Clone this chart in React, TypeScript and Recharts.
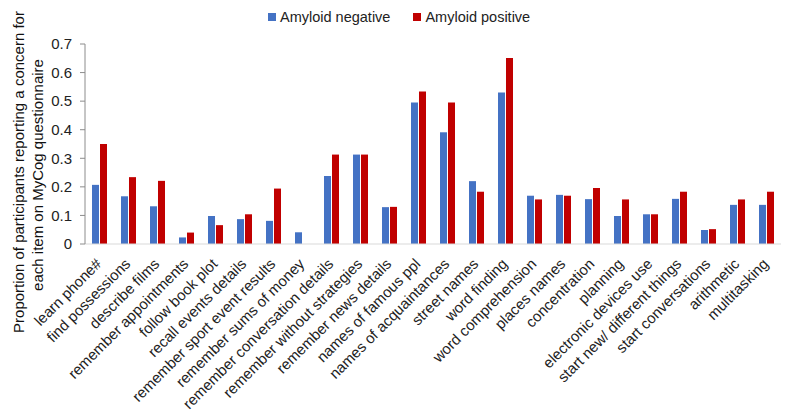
import React from 'react';
import { BarChart, Bar, XAxis, YAxis, Legend, Label } from 'recharts';

const items = [
  'learn phone#',
  'find possessions',
  'describe films',
  'remember appointments',
  'follow book plot',
  'recall events details',
  'remember sport event results',
  'remember sums of money',
  'remember conversation details',
  'remember without strategies',
  'remember news details',
  'names of famous ppl',
  'names of acquaintances',
  'street names',
  'word finding',
  'word comprehension',
  'places names',
  'concentration',
  'planning',
  'electronic devices use',
  'start new/ different things',
  'start conversations',
  'arithmetic',
  'multitasking',
];

const amyloidNegative = [
  0.207, 0.167, 0.132, 0.023, 0.098, 0.087, 0.081, 0.041, 0.238, 0.313, 0.129, 0.495,
  0.391, 0.22, 0.53, 0.169, 0.172, 0.157, 0.098, 0.104, 0.158, 0.049, 0.137, 0.137,
];

const amyloidPositive = [
  0.35, 0.234, 0.221, 0.04, 0.066, 0.104, 0.194, 0, 0.313, 0.313, 0.13, 0.534,
  0.495, 0.183, 0.651, 0.156, 0.169, 0.196, 0.156, 0.104, 0.183, 0.052, 0.156, 0.183,
];

const yTicks = [0, 0.1, 0.2, 0.3, 0.4, 0.5, 0.6, 0.7];

const FONT = '"Liberation Sans", Arial, sans-serif';
const BLUE = '#4472C4';
const RED = '#C00000';

const data = items.map((name, i) => ({
  name,
  neg: amyloidNegative[i],
  pos: amyloidPositive[i],
}));

function XTick(props: any) {
  const { x, y, payload } = props;
  const ax = x - 1;
  const ay = y + 17;
  return (
    <text
      x={ax}
      y={ay}
      transform={`rotate(-45, ${ax}, ${ay})`}
      textAnchor="end"
      dominantBaseline="central"
      fontSize={15}
      fontFamily={FONT}
      fill="#222"
    >
      {payload.value}
    </text>
  );
}

function LegendContent() {
  const item = (color: string, text: string, ml: number) => (
    <div style={{ display: 'flex', alignItems: 'center', marginLeft: ml }}>
      <span style={{ width: 8, height: 8, background: color, display: 'inline-block', marginRight: 4 }} />
      <span style={{ fontSize: 14.5, fontFamily: FONT, color: '#222' }}>{text}</span>
    </div>
  );
  return (
    <div style={{ display: 'flex', alignItems: 'center', paddingLeft: 268 }}>
      {item(BLUE, 'Amyloid negative', 0)}
      {item(RED, 'Amyloid positive', 23)}
    </div>
  );
}

function YTitle() {
  const common = {
    fontSize: 15,
    fontFamily: FONT,
    fill: '#111',
    textAnchor: 'middle' as const,
    dominantBaseline: 'central' as const,
  };
  return (
    <g>
      <text {...common} transform="translate(18, 172) rotate(-90)">
        Proportion of participants reporting a concern for
      </text>
      <text {...common} transform="translate(37, 175) rotate(-90)">
        each item on MyCog questionnaire
      </text>
    </g>
  );
}

export default function App() {
  return (
    <div style={{ position: 'absolute', left: 0, top: 0, background: '#fff' }}>
      <BarChart
        width={793}
        height={418}
        data={data}
        margin={{ top: 44, right: 12, left: 0, bottom: 0 }}
        barSize={7}
        barGap={1}
      >
        <XAxis
          dataKey="name"
          interval={0}
          tickLine={false}
          tickSize={0}
          tickMargin={0}
          axisLine={{ stroke: '#d9d9d9' }}
          tick={<XTick />}
          height={174}
        />
        <YAxis
          domain={[0, 0.7]}
          ticks={yTicks}
          width={85}
          tickSize={5}
          tickMargin={8}
          axisLine={{ stroke: '#8c8c8c' }}
          tickLine={{ stroke: '#8c8c8c' }}
          tick={{ fontSize: 15, fontFamily: FONT, fill: '#222' }}
          tickFormatter={(v: number) => String(v)}
        >
          <Label content={() => <YTitle />} />
        </YAxis>
        <Legend
          verticalAlign="middle"
          align="center"
          layout="horizontal"
          wrapperStyle={{ top: 9, left: 0, width: 793 }}
          content={() => <LegendContent />}
        />
        <Bar dataKey="neg" name="Amyloid negative" fill={BLUE} isAnimationActive={false} />
        <Bar dataKey="pos" name="Amyloid positive" fill={RED} isAnimationActive={false} />
      </BarChart>
    </div>
  );
}
